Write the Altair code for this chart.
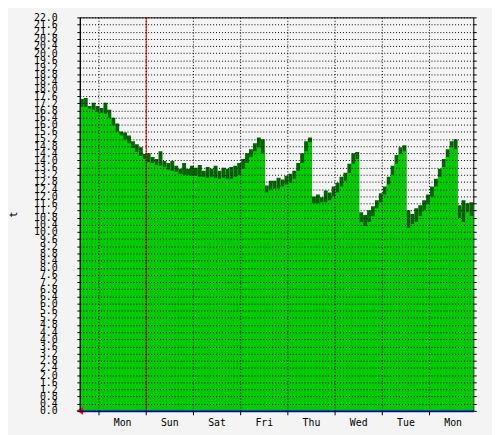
import altair as alt
import pandas as pd

# average values (bright green), one per 2-hour bin, left to right
avg_values = [
    17.00, 17.00, 16.89, 16.83, 16.72, 16.67, 16.61, 16.39, 15.95, 15.62,
    15.40, 15.18, 14.96, 14.69, 14.47, 14.25, 14.08, 13.92, 13.86, 13.75,
    13.70, 13.64, 13.48, 13.42, 13.37, 13.26, 13.20, 13.20, 13.15, 13.15,
    13.09, 13.09, 13.04, 13.09, 13.04, 12.98, 13.04, 12.98, 12.98, 13.09,
    13.20, 13.53, 13.86, 14.19, 14.52, 14.74, 14.41, 12.21, 12.38, 12.43,
    12.43, 12.54, 12.65, 12.76, 12.98, 13.42, 13.86, 14.52, 15.02, 11.61,
    11.61, 11.66, 11.66, 11.77, 11.99, 12.21, 12.54, 12.87, 13.31, 13.81,
    14.08, 10.56, 10.34, 10.56, 10.89, 11.33, 11.66, 12.10, 12.65, 13.20,
    13.81, 14.36, 14.52, 10.23, 10.45, 10.56, 10.89, 11.22, 11.55, 11.99,
    12.54, 13.09, 13.64, 14.19, 14.74, 14.63, 10.78, 10.56, 11.11, 10.89,
]

# maximum values (dark green), same bins
max_values = [
    17.44, 17.49, 17.05, 17.22, 17.05, 16.94, 17.22, 16.83, 16.39, 16.06,
    15.62, 15.57, 15.40, 15.07, 14.91, 14.74, 14.36, 14.41, 14.19, 14.08,
    14.52, 13.97, 13.86, 13.97, 13.70, 13.53, 13.86, 13.53, 13.70, 13.59,
    13.75, 13.42, 13.64, 13.53, 13.70, 13.42, 13.59, 13.53, 13.64, 13.70,
    13.86, 14.08, 14.41, 14.63, 14.96, 15.29, 15.18, 12.60, 12.87, 12.87,
    13.04, 12.93, 13.15, 13.26, 13.42, 13.86, 14.41, 15.07, 15.29, 11.99,
    12.10, 11.94, 12.32, 12.21, 12.54, 12.76, 13.09, 13.31, 13.81, 14.41,
    14.47, 11.11, 10.95, 11.22, 11.44, 11.77, 12.16, 12.54, 13.09, 13.70,
    14.30, 14.74, 14.85, 11.22, 11.00, 11.33, 11.50, 11.77, 12.10, 12.54,
    12.98, 13.53, 14.08, 14.63, 15.07, 15.18, 11.50, 11.77, 11.61, 11.66,
]

day_labels = ["Mon", "Sun", "Sat", "Fri", "Thu", "Wed", "Tue", "Mon"]
day_grid = [9.5, 33.5, 57.5, 81.5, 105.5, 129.5, 153.5, 177.5]
day_mid = [21.5, 45.5, 69.5, 93.5, 117.5, 141.5, 165.5, 189.5]
y_ticks = [round(0.4 * k, 1) for k in range(56)]
marker_hour = [33.75]

bin_hours = 2
starts = [bin_hours * i for i in range(len(avg_values))]
df = pd.DataFrame({
    "start": starts,
    "end": [s + bin_hours for s in starts],
    "avg": avg_values,
    "max": max_values,
})

# nested ternary mapping each mid-day position to its day name
label_expr = "''"
for pos, name in reversed(list(zip(day_mid, day_labels))):
    label_expr = f"(datum.value < {pos + 1} && datum.value > {pos - 1}) ? '{name}' : {label_expr}"

FONT = "DejaVu Sans Mono"
xscale = alt.Scale(domain=[0, 200], nice=False, zero=False)
yscale = alt.Scale(domain=[0, 22], nice=False)

x_axis_grid = alt.Axis(
    orient="bottom",
    values=day_grid,
    labels=False,
    grid=True,
    gridDash=[1, 2],
    gridColor="black",
    tickSize=4,
    tickColor="black",
    domainColor="#0000b4",
    domainWidth=2,
    title=None,
    zindex=1,
)

x_axis_labels = alt.Axis(
    orient="bottom",
    values=day_mid,
    labelExpr=label_expr,
    ticks=False,
    grid=False,
    domain=False,
    labelFont=FONT,
    labelFontSize=10,
    labelColor="black",
    labelPadding=7,
    labelAngle=0,
    labelOverlap=False,
    title=None,
)

y_axis_left = alt.Axis(
    orient="left",
    values=y_ticks,
    format=".1f",
    grid=True,
    gridDash=[1, 2],
    gridColor="black",
    tickSize=3,
    tickColor="black",
    domainColor="black",
    labelFont=FONT,
    labelFontSize=10,
    labelColor="black",
    labelPadding=20,
    labelOverlap=False,
    title="t",
    titleFont=FONT,
    titleFontSize=10,
    titleFontWeight="normal",
    titleColor="black",
    titleAngle=270,
    titleX=-67,
    titleY=200,
    titleAlign="center",
    titleBaseline="middle",
    zindex=1,
)

y_axis_right = alt.Axis(
    orient="right",
    values=y_ticks,
    labels=False,
    grid=False,
    domain=False,
    tickSize=3,
    tickColor="black",
    title=None,
)

max_layer = alt.Chart(df).mark_rect(color="#006600").encode(
    x=alt.X("start:Q", scale=xscale, axis=x_axis_grid),
    x2="end:Q",
    y=alt.Y("max:Q", scale=yscale, axis=y_axis_left),
    y2=alt.datum(0),
)

avg_layer = alt.Chart(df).mark_rect(color="#00cc00").encode(
    x=alt.X("start:Q", scale=xscale, axis=x_axis_labels),
    x2="end:Q",
    y=alt.Y("avg:Q", scale=yscale, axis=y_axis_right),
    y2=alt.datum(0),
)

marker_df = pd.DataFrame({"h": marker_hour})
red_rule = alt.Chart(marker_df).mark_rule(color="#ff0000", strokeWidth=1).encode(
    x=alt.X("h:Q", scale=xscale, axis=None),
)

arrow_df = pd.DataFrame({"h": [0], "v": [0]})
arrow = alt.Chart(arrow_df).mark_point(
    shape="triangle-left", filled=True, color="#ff0000", size=60, opacity=1
).encode(
    x=alt.X("h:Q", scale=xscale, axis=None),
    y=alt.Y("v:Q", scale=yscale, axis=None),
)

chart = alt.layer(max_layer, avg_layer, red_rule, arrow).resolve_axis(
    x="independent", y="independent"
).properties(
    width=400,
    height=400,
    autosize=alt.AutoSizeParams(type="none"),
    padding={"left": 73, "top": 6, "right": 19, "bottom": 21},
    background="#f4f4f4",
).configure_view(
    stroke="black",
    strokeWidth=1,
    fill="#f4f4f4",
)

chart.save("out.html", embed_options={"renderer": "svg", "actions": False})
